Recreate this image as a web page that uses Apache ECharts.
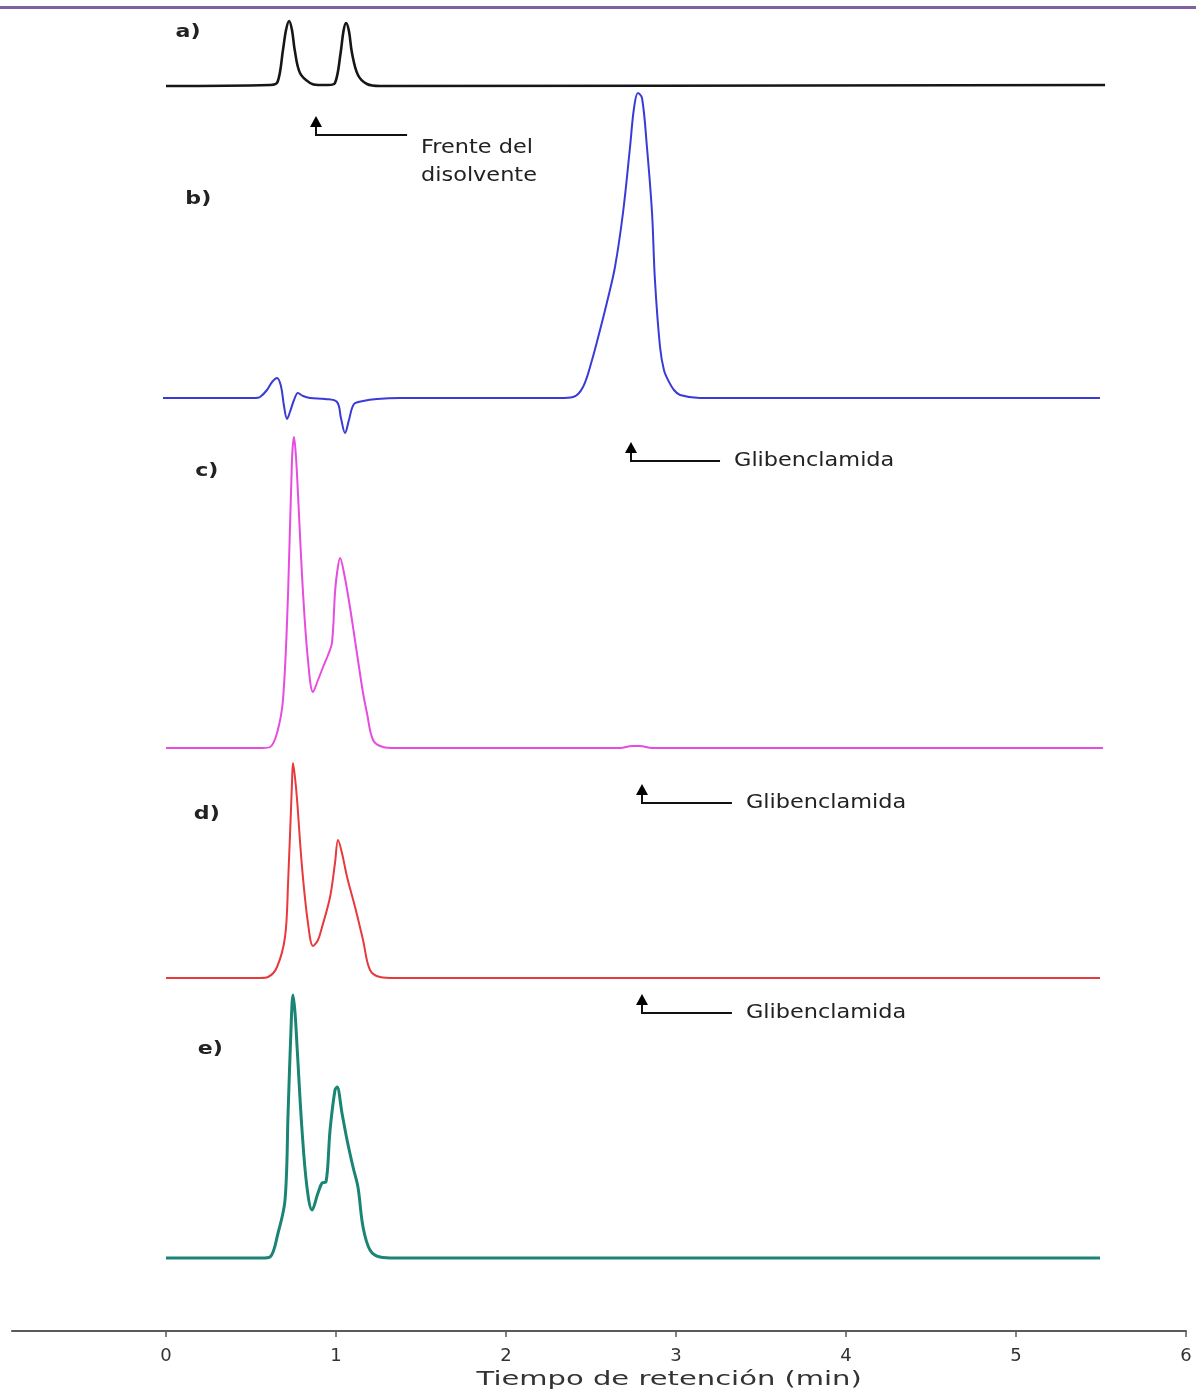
<!DOCTYPE html>
<html>
<head>
<meta charset="utf-8">
<script src="https://cdn.jsdelivr.net/npm/echarts@6/dist/echarts.min.js"></script>
<style>
  html, body { margin: 0; padding: 0; background: #fff; }
  #chart { width: 1196px; height: 1391px; }
</style>
</head>
<body>
<div id="chart"></div>
<script>
// tiempos (min) y señal relativa a la línea base de cada cromatograma
const tA = [0, 0.612, 0.656, 0.688, 0.706, 0.724, 0.741, 0.757, 0.788, 0.847, 0.894, 0.953, 0.994, 1.027, 1.044, 1.059, 1.076, 1.094, 1.129, 1.182, 1.259, 5.524];
const hA = [0, 1, 4, 36, 56, 65, 56, 36, 13, 3, 1, 1, 3, 33, 55, 63, 55, 33, 11, 2, 0, 1];

const tB = [-0.018, 0.524, 0.553, 0.594, 0.624, 0.653, 0.676, 0.694, 0.712, 0.729, 0.753, 0.776, 0.806, 0.847, 0.935, 1.006, 1.029, 1.053, 1.076, 1.106, 1.159, 1.241, 1.376,
            2.318, 2.394, 2.453, 2.506, 2.553, 2.6, 2.641, 2.688, 2.729, 2.753, 2.776, 2.8, 2.829, 2.859, 2.876, 2.906, 2.929, 2.953, 2.988, 3.024, 3.141, 5.494];
const hB = [0, 0, 1, 8, 16, 20, 12, -8, -21, -14, -2, 5, 2, 0, -1, -4, -20, -35, -22, -6, -3, -1, 0,
            0, 1, 11, 38, 68, 100, 131, 185, 250, 290, 305, 300, 251, 185, 118, 51, 28, 18, 8, 3, 0, 0];

const tC = [0, 0.565, 0.612, 0.653, 0.688, 0.718, 0.741, 0.753, 0.765, 0.776, 0.806, 0.835, 0.865, 0.894, 0.924, 0.953, 0.976, 0.994, 1.006, 1.024, 1.047, 1.082, 1.129, 1.159, 1.182, 1.218, 1.276, 1.347, 2.671, 2.741, 2.788, 2.859, 5.512];
const hC = [0, 0, 1, 15, 48, 155, 288, 311, 290, 255, 155, 88, 56, 68, 81, 93, 105, 155, 175, 190, 175, 141, 88, 55, 35, 8, 1, 0, 0, 2, 2, 0, 0];

const tD = [0, 0.553, 0.6, 0.653, 0.7, 0.718, 0.741, 0.747, 0.759, 0.771, 0.8, 0.835, 0.865, 0.894, 0.918, 0.965, 0.994, 1.012, 1.035, 1.065, 1.112, 1.159, 1.2, 1.259, 1.347, 5.494];
const hD = [0, 0, 1, 11, 41, 95, 195, 215, 200, 178, 111, 55, 32, 38, 51, 81, 115, 138, 125, 101, 71, 38, 8, 1, 0, 0];

const tE = [0, 0.565, 0.612, 0.659, 0.7, 0.718, 0.735, 0.747, 0.759, 0.771, 0.8, 0.829, 0.859, 0.894, 0.918, 0.941, 0.965, 0.994, 1.006, 1.035, 1.065, 1.1, 1.129, 1.159, 1.2, 1.259, 1.347, 5.494];
const hE = [0, 0, 1, 25, 58, 145, 228, 263, 245, 211, 128, 71, 48, 65, 75, 76, 128, 168, 171, 145, 118, 91, 71, 31, 8, 1, 0, 0];

// desplazamiento vertical de cada traza
const offsets = [1245, 933, 583, 353, 73];
const traceLabels = ['a)', 'b)', 'c)', 'd)', 'e)'];
const xTicks = [0, 1, 2, 3, 4, 5, 6];

const traces = [
  { t: tA, h: hA, color: '#161616', width: 2.6 },
  { t: tB, h: hB, color: '#3a3ad8', width: 2 },
  { t: tC, h: hC, color: '#e64ce0', width: 2 },
  { t: tD, h: hD, color: '#e8393c', width: 2 },
  { t: tE, h: hE, color: '#1b8575', width: 3 }
];

const chart = echarts.init(document.getElementById('chart'));

const series = traces.map(function (tr, i) {
  return {
    type: 'line',
    data: tr.t.map(function (t, k) { return [t, offsets[i] + tr.h[k]]; }),
    showSymbol: false,
    smooth: 0.35,
    lineStyle: { color: tr.color, width: tr.width },
    silent: true,
    z: 3
  };
});

chart.setOption({
  animation: false,
  backgroundColor: '#fff',
  grid: { left: 12, right: 10, top: 8, bottom: 60, containLabel: false },
  xAxis: {
    type: 'value',
    min: -0.906,
    max: 6,
    splitLine: { show: false },
    axisLine: { show: true, onZero: false, lineStyle: { color: '#5a5a5a', width: 2 } },
    axisTick: { show: true, length: 6, customValues: xTicks, lineStyle: { color: '#5a5a5a', width: 1.5 } },
    axisLabel: { customValues: xTicks, margin: 16, fontSize: 18, color: '#333', fontFamily: 'DejaVu Sans' }
  },
  yAxis: { type: 'value', min: 0, max: 1323, show: false },
  series: series
});

// anotaciones en coordenadas de datos
const annT = [0.882, 2.735, 2.8, 2.8];
const annEndT = [1.418, 3.259, 3.329, 3.329];
const annV = [1196, 870, 528, 318];
const annText = ['Frente del\ndisolvente', 'Glibenclamida', 'Glibenclamida', 'Glibenclamida'];
const labelT = [0.13, 0.19, 0.24, 0.24, 0.26];
const labelV = [1298, 1131, 859, 516, 281];

const graphics = [
  { type: 'rect', shape: { x: 0, y: 6, width: 1196, height: 3 }, style: { fill: '#80609e' } }
];

annT.forEach(function (t, i) {
  const p = chart.convertToPixel({ gridIndex: 0 }, [t, annV[i]]);
  const e = chart.convertToPixel({ gridIndex: 0 }, [annEndT[i], annV[i]]);
  const x = Math.round(p[0]), y = Math.round(p[1]);
  graphics.push({
    type: 'polyline',
    shape: { points: [[x, y - 8], [x, y], [e[0], y]] },
    style: { stroke: '#111', lineWidth: 2, fill: null }
  });
  graphics.push({
    type: 'polygon',
    shape: { points: [[x - 6, y - 8], [x + 6, y - 8], [x, y - 19]] },
    style: { fill: '#000' }
  });
  graphics.push({
    type: 'text',
    x: e[0] + 14,
    y: i === 0 ? y + 27 : y,
    scaleX: 1.12,
    style: {
      text: annText[i],
      fontSize: 20,
      lineHeight: 28,
      fontFamily: 'DejaVu Sans',
      fill: '#222',
      verticalAlign: 'middle',
      align: 'left'
    }
  });
});

traceLabels.forEach(function (lab, i) {
  const p = chart.convertToPixel({ gridIndex: 0 }, [labelT[i], labelV[i]]);
  graphics.push({
    type: 'text',
    x: p[0],
    y: p[1],
    scaleX: 1.3,
    style: {
      text: lab,
      fontSize: 17,
      fontWeight: 'bold',
      fontFamily: 'DejaVu Sans',
      fill: '#222',
      align: 'center',
      verticalAlign: 'middle'
    }
  });
});

const nameP = chart.convertToPixel({ gridIndex: 0 }, [2.96, 0]);
graphics.push({
  type: 'text',
  x: nameP[0],
  y: 1380,
  scaleX: 1.45,
  style: {
    text: 'Tiempo de retención (min)',
    fontSize: 20,
    fontFamily: 'DejaVu Sans',
    fill: '#333',
    align: 'center',
    verticalAlign: 'middle'
  }
});

chart.setOption({ graphic: graphics });
</script>
</body>
</html>
